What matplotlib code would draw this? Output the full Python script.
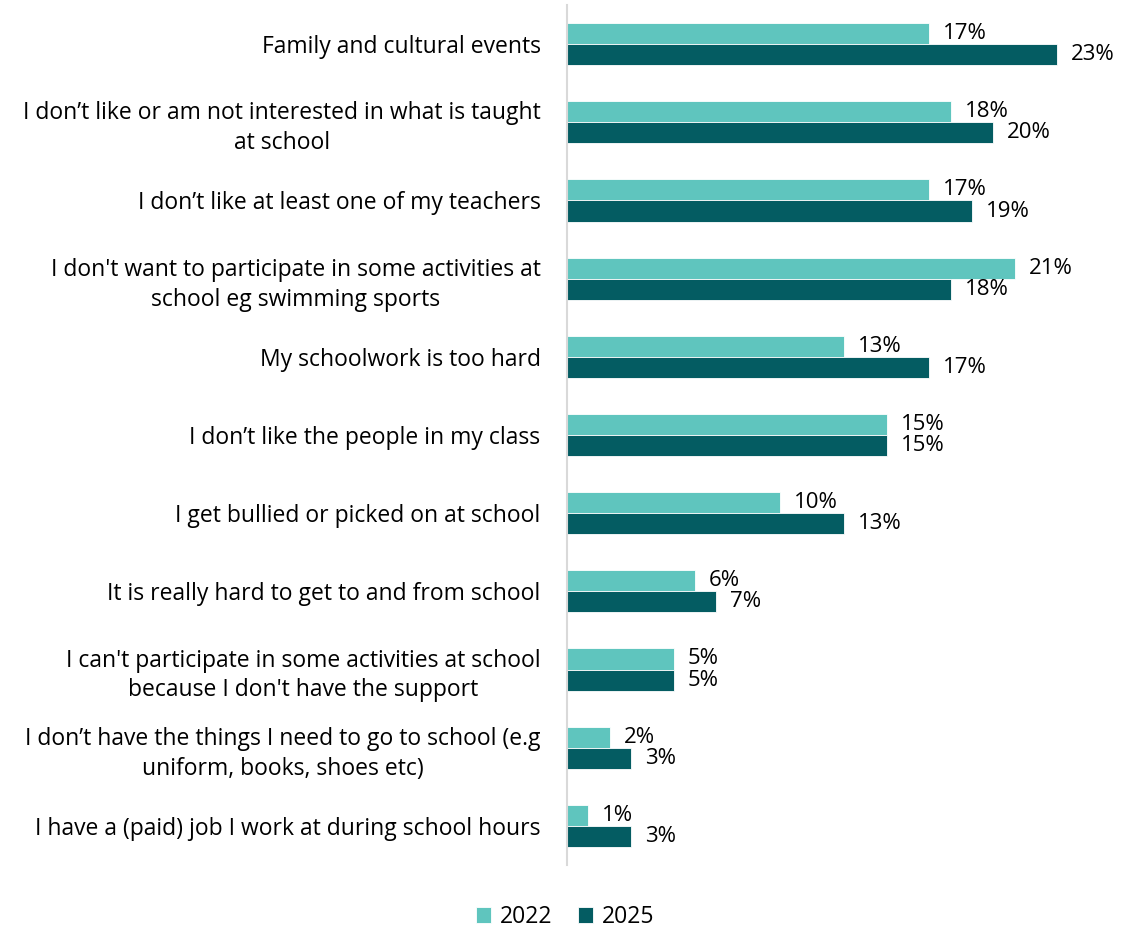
import matplotlib
matplotlib.use("Agg")
from matplotlib import pyplot as plt
import numpy as np

categories = [
    "Family and cultural events",
    "I don\u2019t like or am not interested in what is taught\nat school",
    "I don\u2019t like at least one of my teachers",
    "I don't want to participate in some activities at\nschool eg swimming sports",
    "My schoolwork is too hard",
    "I don\u2019t like the people in my class",
    "I get bullied or picked on at school",
    "It is really hard to get to and from school",
    "I can't participate in some activities at school\nbecause I don't have the support",
    "I don\u2019t have the things I need to go to school (e.g\nuniform, books, shoes etc)",
    "I have a (paid) job I work at during school hours",
]
vals_2022 = [17, 18, 17, 21, 13, 15, 10, 6, 5, 2, 1]
vals_2025 = [23, 20, 19, 18, 17, 15, 13, 7, 5, 3, 3]

c2022 = "#5FC5BE"
c2025 = "#045C62"

plt.rcParams["font.family"] = ["Open Sans", "DejaVu Sans"]

fig = plt.figure(figsize=(11.3, 9.3), dpi=100)
ax = fig.add_axes([567 / 1130, 65 / 930, 533 / 1130, 860 / 930])

y = np.arange(len(categories))
h = 0.27
b1 = ax.barh(y - h / 2, vals_2022, height=h, color=c2022, edgecolor="white",
             linewidth=0.6, label="2022")
b2 = ax.barh(y + h / 2, vals_2025, height=h, color=c2025, edgecolor="white",
             linewidth=0.6, label="2025")

# percentage labels just past the end of each bar
for bars, vals in ((b1, vals_2022), (b2, vals_2025)):
    for bar, v in zip(bars, vals):
        ax.annotate(f"{v}%", (bar.get_width(), bar.get_y() + bar.get_height() / 2),
                    xytext=(10, 0), textcoords="offset points",
                    ha="left", va="center", fontsize=16, color="#000000")

ax.set_xlim(0, 25)
ax.set_ylim(len(categories) - 0.5, -0.5)
ax.set_xticks([])
ax.set_yticks(y)
ax.set_yticklabels(categories, fontsize=16.5, multialignment="center", linespacing=1.33)
ax.tick_params(axis="y", length=0, pad=19)
for s in ("top", "right", "bottom"):
    ax.spines[s].set_visible(False)
ax.spines["left"].set_color("#D9D9D9")
ax.spines["left"].set_linewidth(1.5)

fig.legend(handles=[b1, b2], loc="center", bbox_to_anchor=(565 / 1130, 1 - 917 / 930),
           ncol=2, frameon=False, fontsize=16.5, handlelength=0.65, handleheight=0.65,
           handletextpad=0.4, columnspacing=1.1)

fig.savefig("out.png", dpi=100)
